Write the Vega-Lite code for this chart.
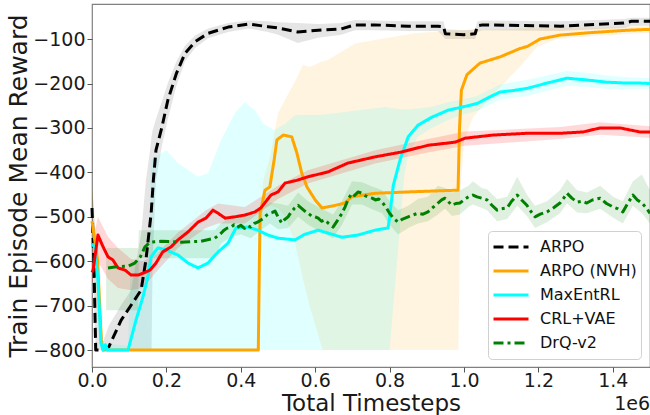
{
"$schema": "https://vega.github.io/schema/vega-lite/v6.json",
"width": 558, "height": 363,
"autosize": {"type": "none"},
"padding": {"left": 92, "top": 4, "right": 0, "bottom": 48},
"background": "white",
"config": {
  "font": "DejaVu Sans",
  "view": {"stroke": "#808080", "strokeWidth": 1.2},
  "axis": {"grid": false, "domain": false, "tickColor": "#555555", "tickSize": 5, "labelFontSize": 19, "labelColor": "#1a1a1a", "titleFontSize": 23, "titleFontWeight": "normal", "titleColor": "#1a1a1a", "labelFont": "DejaVu Sans", "titleFont": "DejaVu Sans"}
},
"datasets": {
"lines": [
{"s":"ARPO","x":0,"y":-480},{"s":"ARPO","x":5000,"y":-600},{"s":"ARPO","x":10000,"y":-800},{"s":"ARPO","x":30000,"y":-800},{"s":"ARPO","x":45000,"y":-793},{"s":"ARPO","x":78000,"y":-733},{"s":"ARPO","x":105000,"y":-699},{"s":"ARPO","x":132000,"y":-665},{"s":"ARPO","x":145000,"y":-597},{"s":"ARPO","x":159000,"y":-492},{"s":"ARPO","x":165000,"y":-417},{"s":"ARPO","x":172000,"y":-350},{"s":"ARPO","x":188000,"y":-298},{"s":"ARPO","x":204000,"y":-237},{"s":"ARPO","x":227000,"y":-177},{"s":"ARPO","x":250000,"y":-132},{"s":"ARPO","x":277000,"y":-106},{"s":"ARPO","x":312000,"y":-87},{"s":"ARPO","x":366000,"y":-73},{"s":"ARPO","x":420000,"y":-66},{"s":"ARPO","x":473000,"y":-72},{"s":"ARPO","x":500000,"y":-75},{"s":"ARPO","x":553000,"y":-84},{"s":"ARPO","x":608000,"y":-80},{"s":"ARPO","x":670000,"y":-77},{"s":"ARPO","x":707000,"y":-68},{"s":"ARPO","x":760000,"y":-68},{"s":"ARPO","x":850000,"y":-71},{"s":"ARPO","x":930000,"y":-71},{"s":"ARPO","x":945000,"y":-72},{"s":"ARPO","x":950000,"y":-88},{"s":"ARPO","x":1000000,"y":-90},{"s":"ARPO","x":1030000,"y":-88},{"s":"ARPO","x":1036000,"y":-70},{"s":"ARPO","x":1050000,"y":-68},{"s":"ARPO","x":1260000,"y":-71},{"s":"ARPO","x":1430000,"y":-64},{"s":"ARPO","x":1450000,"y":-60},{"s":"ARPO","x":1500000,"y":-60},
{"s":"ARPO (NVH)","x":0,"y":-510},{"s":"ARPO (NVH)","x":15000,"y":-597},{"s":"ARPO (NVH)","x":25000,"y":-777},{"s":"ARPO (NVH)","x":30000,"y":-800},{"s":"ARPO (NVH)","x":447000,"y":-800},{"s":"ARPO (NVH)","x":450000,"y":-600},{"s":"ARPO (NVH)","x":452000,"y":-492},{"s":"ARPO (NVH)","x":465000,"y":-440},{"s":"ARPO (NVH)","x":478000,"y":-433},{"s":"ARPO (NVH)","x":490000,"y":-370},{"s":"ARPO (NVH)","x":497000,"y":-327},{"s":"ARPO (NVH)","x":514000,"y":-316},{"s":"ARPO (NVH)","x":537000,"y":-320},{"s":"ARPO (NVH)","x":551000,"y":-357},{"s":"ARPO (NVH)","x":564000,"y":-402},{"s":"ARPO (NVH)","x":578000,"y":-433},{"s":"ARPO (NVH)","x":600000,"y":-462},{"s":"ARPO (NVH)","x":618000,"y":-480},{"s":"ARPO (NVH)","x":650000,"y":-475},{"s":"ARPO (NVH)","x":680000,"y":-469},{"s":"ARPO (NVH)","x":698000,"y":-455},{"s":"ARPO (NVH)","x":761000,"y":-447},{"s":"ARPO (NVH)","x":850000,"y":-444},{"s":"ARPO (NVH)","x":984000,"y":-440},{"s":"ARPO (NVH)","x":988000,"y":-300},{"s":"ARPO (NVH)","x":993000,"y":-215},{"s":"ARPO (NVH)","x":1008000,"y":-180},{"s":"ARPO (NVH)","x":1043000,"y":-154},{"s":"ARPO (NVH)","x":1097000,"y":-140},{"s":"ARPO (NVH)","x":1151000,"y":-121},{"s":"ARPO (NVH)","x":1169000,"y":-117},{"s":"ARPO (NVH)","x":1204000,"y":-100},{"s":"ARPO (NVH)","x":1258000,"y":-91},{"s":"ARPO (NVH)","x":1347000,"y":-85},{"s":"ARPO (NVH)","x":1440000,"y":-80},{"s":"ARPO (NVH)","x":1500000,"y":-78},
{"s":"MaxEntRL","x":0,"y":-560},{"s":"MaxEntRL","x":8000,"y":-570},{"s":"MaxEntRL","x":16000,"y":-642},{"s":"MaxEntRL","x":24000,"y":-784},{"s":"MaxEntRL","x":30000,"y":-800},{"s":"MaxEntRL","x":36000,"y":-788},{"s":"MaxEntRL","x":42000,"y":-800},{"s":"MaxEntRL","x":97000,"y":-800},{"s":"MaxEntRL","x":118000,"y":-733},{"s":"MaxEntRL","x":137000,"y":-680},{"s":"MaxEntRL","x":150000,"y":-636},{"s":"MaxEntRL","x":159000,"y":-590},{"s":"MaxEntRL","x":177000,"y":-570},{"s":"MaxEntRL","x":200000,"y":-575},{"s":"MaxEntRL","x":231000,"y":-586},{"s":"MaxEntRL","x":258000,"y":-604},{"s":"MaxEntRL","x":285000,"y":-615},{"s":"MaxEntRL","x":312000,"y":-604},{"s":"MaxEntRL","x":339000,"y":-579},{"s":"MaxEntRL","x":366000,"y":-559},{"s":"MaxEntRL","x":387000,"y":-525},{"s":"MaxEntRL","x":419000,"y":-523},{"s":"MaxEntRL","x":446000,"y":-530},{"s":"MaxEntRL","x":473000,"y":-541},{"s":"MaxEntRL","x":500000,"y":-548},{"s":"MaxEntRL","x":546000,"y":-552},{"s":"MaxEntRL","x":570000,"y":-540},{"s":"MaxEntRL","x":608000,"y":-530},{"s":"MaxEntRL","x":672000,"y":-546},{"s":"MaxEntRL","x":715000,"y":-541},{"s":"MaxEntRL","x":761000,"y":-530},{"s":"MaxEntRL","x":796000,"y":-525},{"s":"MaxEntRL","x":800000,"y":-500},{"s":"MaxEntRL","x":810000,"y":-429},{"s":"MaxEntRL","x":828000,"y":-372},{"s":"MaxEntRL","x":850000,"y":-320},{"s":"MaxEntRL","x":876000,"y":-294},{"s":"MaxEntRL","x":913000,"y":-276},{"s":"MaxEntRL","x":957000,"y":-260},{"s":"MaxEntRL","x":995000,"y":-253},{"s":"MaxEntRL","x":1035000,"y":-245},{"s":"MaxEntRL","x":1065000,"y":-232},{"s":"MaxEntRL","x":1097000,"y":-219},{"s":"MaxEntRL","x":1130000,"y":-216},{"s":"MaxEntRL","x":1169000,"y":-211},{"s":"MaxEntRL","x":1223000,"y":-199},{"s":"MaxEntRL","x":1277000,"y":-188},{"s":"MaxEntRL","x":1330000,"y":-192},{"s":"MaxEntRL","x":1384000,"y":-197},{"s":"MaxEntRL","x":1438000,"y":-199},{"s":"MaxEntRL","x":1473000,"y":-199},{"s":"MaxEntRL","x":1500000,"y":-200},
{"s":"CRL+VAE","x":0,"y":-625},{"s":"CRL+VAE","x":3000,"y":-620},{"s":"CRL+VAE","x":16000,"y":-541},{"s":"CRL+VAE","x":30000,"y":-568},{"s":"CRL+VAE","x":43000,"y":-590},{"s":"CRL+VAE","x":56000,"y":-597},{"s":"CRL+VAE","x":70000,"y":-615},{"s":"CRL+VAE","x":89000,"y":-620},{"s":"CRL+VAE","x":105000,"y":-631},{"s":"CRL+VAE","x":124000,"y":-631},{"s":"CRL+VAE","x":137000,"y":-627},{"s":"CRL+VAE","x":156000,"y":-620},{"s":"CRL+VAE","x":172000,"y":-604},{"s":"CRL+VAE","x":190000,"y":-579},{"s":"CRL+VAE","x":212000,"y":-568},{"s":"CRL+VAE","x":231000,"y":-552},{"s":"CRL+VAE","x":258000,"y":-534},{"s":"CRL+VAE","x":285000,"y":-512},{"s":"CRL+VAE","x":306000,"y":-503},{"s":"CRL+VAE","x":325000,"y":-485},{"s":"CRL+VAE","x":339000,"y":-492},{"s":"CRL+VAE","x":358000,"y":-503},{"s":"CRL+VAE","x":384000,"y":-500},{"s":"CRL+VAE","x":411000,"y":-496},{"s":"CRL+VAE","x":438000,"y":-489},{"s":"CRL+VAE","x":454000,"y":-480},{"s":"CRL+VAE","x":481000,"y":-451},{"s":"CRL+VAE","x":500000,"y":-444},{"s":"CRL+VAE","x":519000,"y":-424},{"s":"CRL+VAE","x":550000,"y":-418},{"s":"CRL+VAE","x":580000,"y":-410},{"s":"CRL+VAE","x":634000,"y":-399},{"s":"CRL+VAE","x":688000,"y":-379},{"s":"CRL+VAE","x":761000,"y":-365},{"s":"CRL+VAE","x":833000,"y":-354},{"s":"CRL+VAE","x":903000,"y":-339},{"s":"CRL+VAE","x":976000,"y":-332},{"s":"CRL+VAE","x":1003000,"y":-323},{"s":"CRL+VAE","x":1078000,"y":-316},{"s":"CRL+VAE","x":1169000,"y":-312},{"s":"CRL+VAE","x":1258000,"y":-312},{"s":"CRL+VAE","x":1320000,"y":-309},{"s":"CRL+VAE","x":1366000,"y":-300},{"s":"CRL+VAE","x":1420000,"y":-300},{"s":"CRL+VAE","x":1473000,"y":-309},{"s":"CRL+VAE","x":1500000,"y":-309},
{"s":"DrQ-v2","x":43000,"y":-615},{"s":"DrQ-v2","x":70000,"y":-612},{"s":"DrQ-v2","x":97000,"y":-611},{"s":"DrQ-v2","x":115000,"y":-604},{"s":"DrQ-v2","x":130000,"y":-590},{"s":"DrQ-v2","x":142000,"y":-568},{"s":"DrQ-v2","x":156000,"y":-557},{"s":"DrQ-v2","x":186000,"y":-555},{"s":"DrQ-v2","x":239000,"y":-557},{"s":"DrQ-v2","x":293000,"y":-555},{"s":"DrQ-v2","x":330000,"y":-548},{"s":"DrQ-v2","x":340000,"y":-542},{"s":"DrQ-v2","x":347000,"y":-537},{"s":"DrQ-v2","x":355000,"y":-530},{"s":"DrQ-v2","x":362000,"y":-526},{"s":"DrQ-v2","x":374000,"y":-523},{"s":"DrQ-v2","x":382000,"y":-518},{"s":"DrQ-v2","x":390000,"y":-524},{"s":"DrQ-v2","x":400000,"y":-519},{"s":"DrQ-v2","x":410000,"y":-526},{"s":"DrQ-v2","x":418000,"y":-520},{"s":"DrQ-v2","x":427000,"y":-523},{"s":"DrQ-v2","x":436000,"y":-515},{"s":"DrQ-v2","x":445000,"y":-512},{"s":"DrQ-v2","x":454000,"y":-507},{"s":"DrQ-v2","x":462000,"y":-503},{"s":"DrQ-v2","x":470000,"y":-496},{"s":"DrQ-v2","x":478000,"y":-492},{"s":"DrQ-v2","x":485000,"y":-490},{"s":"DrQ-v2","x":492000,"y":-487},{"s":"DrQ-v2","x":500000,"y":-500},{"s":"DrQ-v2","x":510000,"y":-514},{"s":"DrQ-v2","x":518000,"y":-506},{"s":"DrQ-v2","x":527000,"y":-500},{"s":"DrQ-v2","x":535000,"y":-490},{"s":"DrQ-v2","x":545000,"y":-480},{"s":"DrQ-v2","x":554000,"y":-474},{"s":"DrQ-v2","x":562000,"y":-480},{"s":"DrQ-v2","x":572000,"y":-487},{"s":"DrQ-v2","x":581000,"y":-492},{"s":"DrQ-v2","x":590000,"y":-498},{"s":"DrQ-v2","x":600000,"y":-500},{"s":"DrQ-v2","x":608000,"y":-503},{"s":"DrQ-v2","x":617000,"y":-510},{"s":"DrQ-v2","x":626000,"y":-507},{"s":"DrQ-v2","x":636000,"y":-515},{"s":"DrQ-v2","x":648000,"y":-523},{"s":"DrQ-v2","x":660000,"y":-508},{"s":"DrQ-v2","x":672000,"y":-492},{"s":"DrQ-v2","x":680000,"y":-478},{"s":"DrQ-v2","x":690000,"y":-458},{"s":"DrQ-v2","x":699000,"y":-447},{"s":"DrQ-v2","x":706000,"y":-452},{"s":"DrQ-v2","x":715000,"y":-444},{"s":"DrQ-v2","x":726000,"y":-447},{"s":"DrQ-v2","x":735000,"y":-453},{"s":"DrQ-v2","x":744000,"y":-456},{"s":"DrQ-v2","x":753000,"y":-458},{"s":"DrQ-v2","x":762000,"y":-462},{"s":"DrQ-v2","x":771000,"y":-460},{"s":"DrQ-v2","x":780000,"y":-467},{"s":"DrQ-v2","x":790000,"y":-478},{"s":"DrQ-v2","x":800000,"y":-492},{"s":"DrQ-v2","x":810000,"y":-503},{"s":"DrQ-v2","x":823000,"y":-512},{"s":"DrQ-v2","x":835000,"y":-505},{"s":"DrQ-v2","x":850000,"y":-500},{"s":"DrQ-v2","x":862000,"y":-496},{"s":"DrQ-v2","x":876000,"y":-492},{"s":"DrQ-v2","x":890000,"y":-494},{"s":"DrQ-v2","x":903000,"y":-489},{"s":"DrQ-v2","x":915000,"y":-480},{"s":"DrQ-v2","x":930000,"y":-469},{"s":"DrQ-v2","x":940000,"y":-462},{"s":"DrQ-v2","x":949000,"y":-458},{"s":"DrQ-v2","x":958000,"y":-466},{"s":"DrQ-v2","x":968000,"y":-474},{"s":"DrQ-v2","x":978000,"y":-470},{"s":"DrQ-v2","x":989000,"y":-469},{"s":"DrQ-v2","x":1000000,"y":-462},{"s":"DrQ-v2","x":1012000,"y":-455},{"s":"DrQ-v2","x":1024000,"y":-451},{"s":"DrQ-v2","x":1035000,"y":-455},{"s":"DrQ-v2","x":1048000,"y":-458},{"s":"DrQ-v2","x":1062000,"y":-462},{"s":"DrQ-v2","x":1075000,"y":-474},{"s":"DrQ-v2","x":1089000,"y":-485},{"s":"DrQ-v2","x":1100000,"y":-482},{"s":"DrQ-v2","x":1116000,"y":-480},{"s":"DrQ-v2","x":1128000,"y":-465},{"s":"DrQ-v2","x":1143000,"y":-451},{"s":"DrQ-v2","x":1155000,"y":-462},{"s":"DrQ-v2","x":1169000,"y":-474},{"s":"DrQ-v2","x":1180000,"y":-488},{"s":"DrQ-v2","x":1191000,"y":-500},{"s":"DrQ-v2","x":1205000,"y":-494},{"s":"DrQ-v2","x":1223000,"y":-489},{"s":"DrQ-v2","x":1240000,"y":-480},{"s":"DrQ-v2","x":1258000,"y":-469},{"s":"DrQ-v2","x":1268000,"y":-458},{"s":"DrQ-v2","x":1277000,"y":-447},{"s":"DrQ-v2","x":1290000,"y":-458},{"s":"DrQ-v2","x":1304000,"y":-467},{"s":"DrQ-v2","x":1318000,"y":-465},{"s":"DrQ-v2","x":1330000,"y":-469},{"s":"DrQ-v2","x":1345000,"y":-462},{"s":"DrQ-v2","x":1366000,"y":-458},{"s":"DrQ-v2","x":1383000,"y":-470},{"s":"DrQ-v2","x":1401000,"y":-478},{"s":"DrQ-v2","x":1414000,"y":-482},{"s":"DrQ-v2","x":1427000,"y":-489},{"s":"DrQ-v2","x":1440000,"y":-470},{"s":"DrQ-v2","x":1454000,"y":-451},{"s":"DrQ-v2","x":1466000,"y":-462},{"s":"DrQ-v2","x":1478000,"y":-469},{"s":"DrQ-v2","x":1490000,"y":-480},{"s":"DrQ-v2","x":1500000,"y":-492}
],
"bands": [
{"s":"ARPO","g":"a","x":0,"lo":-560,"hi":-440},{"s":"ARPO","g":"a","x":5000,"lo":-700,"hi":-470},{"s":"ARPO","g":"a","x":10000,"lo":-800,"hi":-560},{"s":"ARPO","g":"a","x":30000,"lo":-800,"hi":-780},{"s":"ARPO","g":"a","x":45000,"lo":-800,"hi":-745},{"s":"ARPO","g":"a","x":78000,"lo":-800,"hi":-699},{"s":"ARPO","g":"a","x":105000,"lo":-800,"hi":-665},{"s":"ARPO","g":"a","x":132000,"lo":-800,"hi":-540},{"s":"ARPO","g":"a","x":145000,"lo":-800,"hi":-417},{"s":"ARPO","g":"a","x":156000,"lo":-800,"hi":-350},{"s":"ARPO","g":"a","x":160000,"lo":-800,"hi":-320},{"s":"ARPO","g":"a","x":163000,"lo":-600,"hi":-305},{"s":"ARPO","g":"a","x":172000,"lo":-420,"hi":-280},{"s":"ARPO","g":"a","x":188000,"lo":-340,"hi":-240},{"s":"ARPO","g":"a","x":204000,"lo":-280,"hi":-199},{"s":"ARPO","g":"a","x":227000,"lo":-205,"hi":-150},{"s":"ARPO","g":"a","x":250000,"lo":-150,"hi":-115},{"s":"ARPO","g":"a","x":277000,"lo":-120,"hi":-92},{"s":"ARPO","g":"a","x":312000,"lo":-98,"hi":-76},{"s":"ARPO","g":"a","x":366000,"lo":-84,"hi":-64},{"s":"ARPO","g":"a","x":420000,"lo":-76,"hi":-58},{"s":"ARPO","g":"a","x":473000,"lo":-84,"hi":-60},{"s":"ARPO","g":"a","x":500000,"lo":-90,"hi":-62},{"s":"ARPO","g":"a","x":553000,"lo":-109,"hi":-64},{"s":"ARPO","g":"a","x":608000,"lo":-97,"hi":-66},{"s":"ARPO","g":"a","x":670000,"lo":-90,"hi":-64},{"s":"ARPO","g":"a","x":707000,"lo":-80,"hi":-57},{"s":"ARPO","g":"a","x":760000,"lo":-80,"hi":-58},{"s":"ARPO","g":"a","x":850000,"lo":-82,"hi":-60},{"s":"ARPO","g":"a","x":930000,"lo":-82,"hi":-60},{"s":"ARPO","g":"a","x":945000,"lo":-95,"hi":-60},{"s":"ARPO","g":"a","x":950000,"lo":-100,"hi":-78},{"s":"ARPO","g":"a","x":1000000,"lo":-100,"hi":-80},{"s":"ARPO","g":"a","x":1030000,"lo":-100,"hi":-78},{"s":"ARPO","g":"a","x":1036000,"lo":-84,"hi":-60},{"s":"ARPO","g":"a","x":1050000,"lo":-80,"hi":-58},{"s":"ARPO","g":"a","x":1260000,"lo":-82,"hi":-60},{"s":"ARPO","g":"a","x":1430000,"lo":-75,"hi":-55},{"s":"ARPO","g":"a","x":1450000,"lo":-70,"hi":-52},{"s":"ARPO","g":"a","x":1500000,"lo":-70,"hi":-52},
{"s":"ARPO (NVH)","g":"a","x":0,"lo":-560,"hi":-420},{"s":"ARPO (NVH)","g":"a","x":10000,"lo":-700,"hi":-560},{"s":"ARPO (NVH)","g":"a","x":30000,"lo":-800,"hi":-800},
{"s":"ARPO (NVH)","g":"b","x":446000,"lo":-800,"hi":-800},{"s":"ARPO (NVH)","g":"b","x":449000,"lo":-620,"hi":-540},{"s":"ARPO (NVH)","g":"b","x":460000,"lo":-480,"hi":-420},{"s":"ARPO (NVH)","g":"b","x":480000,"lo":-475,"hi":-360},{"s":"ARPO (NVH)","g":"b","x":500000,"lo":-480,"hi":-267},{"s":"ARPO (NVH)","g":"b","x":520000,"lo":-500,"hi":-235},{"s":"ARPO (NVH)","g":"b","x":546000,"lo":-560,"hi":-195},{"s":"ARPO (NVH)","g":"b","x":567000,"lo":-640,"hi":-158},{"s":"ARPO (NVH)","g":"b","x":585000,"lo":-700,"hi":-163},{"s":"ARPO (NVH)","g":"b","x":620000,"lo":-800,"hi":-150},{"s":"ARPO (NVH)","g":"b","x":634000,"lo":-800,"hi":-147},{"s":"ARPO (NVH)","g":"b","x":707000,"lo":-800,"hi":-110},{"s":"ARPO (NVH)","g":"b","x":760000,"lo":-800,"hi":-102},{"s":"ARPO (NVH)","g":"b","x":868000,"lo":-800,"hi":-87},{"s":"ARPO (NVH)","g":"b","x":976000,"lo":-800,"hi":-80},{"s":"ARPO (NVH)","g":"b","x":985000,"lo":-800,"hi":-80},{"s":"ARPO (NVH)","g":"b","x":990000,"lo":-440,"hi":-80},{"s":"ARPO (NVH)","g":"b","x":1000000,"lo":-330,"hi":-80},{"s":"ARPO (NVH)","g":"b","x":1024000,"lo":-276,"hi":-80},{"s":"ARPO (NVH)","g":"b","x":1089000,"lo":-215,"hi":-78},{"s":"ARPO (NVH)","g":"b","x":1150000,"lo":-163,"hi":-76},{"s":"ARPO (NVH)","g":"b","x":1196000,"lo":-118,"hi":-75},{"s":"ARPO (NVH)","g":"b","x":1250000,"lo":-100,"hi":-75},{"s":"ARPO (NVH)","g":"b","x":1350000,"lo":-93,"hi":-74},{"s":"ARPO (NVH)","g":"b","x":1500000,"lo":-86,"hi":-70},
{"s":"MaxEntRL","g":"a","x":0,"lo":-600,"hi":-520},{"s":"MaxEntRL","g":"a","x":8000,"lo":-620,"hi":-540},{"s":"MaxEntRL","g":"a","x":16000,"lo":-700,"hi":-600},{"s":"MaxEntRL","g":"a","x":30000,"lo":-800,"hi":-785},{"s":"MaxEntRL","g":"a","x":97000,"lo":-800,"hi":-790},{"s":"MaxEntRL","g":"a","x":104000,"lo":-800,"hi":-600},{"s":"MaxEntRL","g":"a","x":150000,"lo":-800,"hi":-595},{"s":"MaxEntRL","g":"a","x":155000,"lo":-800,"hi":-560},{"s":"MaxEntRL","g":"a","x":158000,"lo":-800,"hi":-372},{"s":"MaxEntRL","g":"a","x":200000,"lo":-800,"hi":-350},{"s":"MaxEntRL","g":"a","x":231000,"lo":-800,"hi":-379},{"s":"MaxEntRL","g":"a","x":285000,"lo":-800,"hi":-410},{"s":"MaxEntRL","g":"a","x":312000,"lo":-800,"hi":-402},{"s":"MaxEntRL","g":"a","x":347000,"lo":-800,"hi":-327},{"s":"MaxEntRL","g":"a","x":384000,"lo":-800,"hi":-267},{"s":"MaxEntRL","g":"a","x":410000,"lo":-800,"hi":-242},{"s":"MaxEntRL","g":"a","x":438000,"lo":-800,"hi":-260},{"s":"MaxEntRL","g":"a","x":460000,"lo":-800,"hi":-290},{"s":"MaxEntRL","g":"a","x":490000,"lo":-800,"hi":-305},{"s":"MaxEntRL","g":"a","x":520000,"lo":-800,"hi":-290},{"s":"MaxEntRL","g":"a","x":546000,"lo":-800,"hi":-271},{"s":"MaxEntRL","g":"a","x":620000,"lo":-800,"hi":-270},{"s":"MaxEntRL","g":"a","x":715000,"lo":-800,"hi":-260},{"s":"MaxEntRL","g":"a","x":790000,"lo":-800,"hi":-253},{"s":"MaxEntRL","g":"a","x":800000,"lo":-800,"hi":-255},{"s":"MaxEntRL","g":"a","x":815000,"lo":-650,"hi":-256},{"s":"MaxEntRL","g":"a","x":830000,"lo":-500,"hi":-258},{"s":"MaxEntRL","g":"a","x":840000,"lo":-405,"hi":-258},{"s":"MaxEntRL","g":"a","x":850000,"lo":-360,"hi":-258},{"s":"MaxEntRL","g":"a","x":876000,"lo":-320,"hi":-256},{"s":"MaxEntRL","g":"a","x":913000,"lo":-300,"hi":-252},{"s":"MaxEntRL","g":"a","x":957000,"lo":-282,"hi":-242},{"s":"MaxEntRL","g":"a","x":995000,"lo":-270,"hi":-236},{"s":"MaxEntRL","g":"a","x":1035000,"lo":-262,"hi":-228},{"s":"MaxEntRL","g":"a","x":1097000,"lo":-236,"hi":-202},{"s":"MaxEntRL","g":"a","x":1169000,"lo":-228,"hi":-192},{"s":"MaxEntRL","g":"a","x":1223000,"lo":-216,"hi":-182},{"s":"MaxEntRL","g":"a","x":1277000,"lo":-205,"hi":-172},{"s":"MaxEntRL","g":"a","x":1330000,"lo":-208,"hi":-176},{"s":"MaxEntRL","g":"a","x":1384000,"lo":-212,"hi":-182},{"s":"MaxEntRL","g":"a","x":1438000,"lo":-213,"hi":-186},{"s":"MaxEntRL","g":"a","x":1500000,"lo":-212,"hi":-188},
{"s":"CRL+VAE","g":"a","x":0,"lo":-650,"hi":-560},{"s":"CRL+VAE","g":"a","x":16000,"lo":-600,"hi":-500},{"s":"CRL+VAE","g":"a","x":43000,"lo":-640,"hi":-545},{"s":"CRL+VAE","g":"a","x":70000,"lo":-660,"hi":-570},{"s":"CRL+VAE","g":"a","x":105000,"lo":-665,"hi":-595},{"s":"CRL+VAE","g":"a","x":137000,"lo":-660,"hi":-600},{"s":"CRL+VAE","g":"a","x":172000,"lo":-625,"hi":-585},{"s":"CRL+VAE","g":"a","x":231000,"lo":-570,"hi":-535},{"s":"CRL+VAE","g":"a","x":306000,"lo":-525,"hi":-485},{"s":"CRL+VAE","g":"a","x":339000,"lo":-515,"hi":-470},{"s":"CRL+VAE","g":"a","x":411000,"lo":-515,"hi":-478},{"s":"CRL+VAE","g":"a","x":500000,"lo":-460,"hi":-430},{"s":"CRL+VAE","g":"a","x":580000,"lo":-425,"hi":-395},{"s":"CRL+VAE","g":"a","x":761000,"lo":-380,"hi":-350},{"s":"CRL+VAE","g":"a","x":903000,"lo":-355,"hi":-325},{"s":"CRL+VAE","g":"a","x":1003000,"lo":-340,"hi":-308},{"s":"CRL+VAE","g":"a","x":1258000,"lo":-325,"hi":-298},{"s":"CRL+VAE","g":"a","x":1366000,"lo":-315,"hi":-287},{"s":"CRL+VAE","g":"a","x":1500000,"lo":-322,"hi":-296},
{"s":"DrQ-v2","g":"a","x":38000,"lo":-710,"hi":-570},{"s":"DrQ-v2","g":"a","x":124000,"lo":-710,"hi":-570},{"s":"DrQ-v2","g":"a","x":126000,"lo":-593,"hi":-530},{"s":"DrQ-v2","g":"a","x":330000,"lo":-593,"hi":-530},{"s":"DrQ-v2","g":"a","x":347000,"lo":-560,"hi":-515},{"s":"DrQ-v2","g":"a","x":374000,"lo":-545,"hi":-500},{"s":"DrQ-v2","g":"a","x":400000,"lo":-540,"hi":-495},{"s":"DrQ-v2","g":"a","x":427000,"lo":-548,"hi":-498},{"s":"DrQ-v2","g":"a","x":454000,"lo":-530,"hi":-482},{"s":"DrQ-v2","g":"a","x":478000,"lo":-515,"hi":-468},{"s":"DrQ-v2","g":"a","x":500000,"lo":-528,"hi":-470},{"s":"DrQ-v2","g":"a","x":527000,"lo":-525,"hi":-475},{"s":"DrQ-v2","g":"a","x":554000,"lo":-500,"hi":-445},{"s":"DrQ-v2","g":"a","x":581000,"lo":-518,"hi":-465},{"s":"DrQ-v2","g":"a","x":608000,"lo":-530,"hi":-478},{"s":"DrQ-v2","g":"a","x":648000,"lo":-548,"hi":-495},{"s":"DrQ-v2","g":"a","x":672000,"lo":-518,"hi":-465},{"s":"DrQ-v2","g":"a","x":699000,"lo":-472,"hi":-420},{"s":"DrQ-v2","g":"a","x":726000,"lo":-472,"hi":-422},{"s":"DrQ-v2","g":"a","x":753000,"lo":-483,"hi":-432},{"s":"DrQ-v2","g":"a","x":780000,"lo":-492,"hi":-440},{"s":"DrQ-v2","g":"a","x":800000,"lo":-518,"hi":-465},{"s":"DrQ-v2","g":"a","x":823000,"lo":-540,"hi":-485},{"s":"DrQ-v2","g":"a","x":850000,"lo":-525,"hi":-475},{"s":"DrQ-v2","g":"a","x":876000,"lo":-515,"hi":-460},{"s":"DrQ-v2","g":"a","x":903000,"lo":-510,"hi":-455},{"s":"DrQ-v2","g":"a","x":930000,"lo":-495,"hi":-430},{"s":"DrQ-v2","g":"a","x":949000,"lo":-482,"hi":-435},{"s":"DrQ-v2","g":"a","x":968000,"lo":-498,"hi":-445},{"s":"DrQ-v2","g":"a","x":989000,"lo":-495,"hi":-440},{"s":"DrQ-v2","g":"a","x":1012000,"lo":-478,"hi":-430},{"s":"DrQ-v2","g":"a","x":1024000,"lo":-472,"hi":-420},{"s":"DrQ-v2","g":"a","x":1048000,"lo":-480,"hi":-435},{"s":"DrQ-v2","g":"a","x":1062000,"lo":-485,"hi":-438},{"s":"DrQ-v2","g":"a","x":1089000,"lo":-510,"hi":-460},{"s":"DrQ-v2","g":"a","x":1116000,"lo":-505,"hi":-455},{"s":"DrQ-v2","g":"a","x":1143000,"lo":-475,"hi":-410},{"s":"DrQ-v2","g":"a","x":1169000,"lo":-498,"hi":-450},{"s":"DrQ-v2","g":"a","x":1191000,"lo":-525,"hi":-475},{"s":"DrQ-v2","g":"a","x":1223000,"lo":-512,"hi":-465},{"s":"DrQ-v2","g":"a","x":1258000,"lo":-492,"hi":-440},{"s":"DrQ-v2","g":"a","x":1277000,"lo":-470,"hi":-415},{"s":"DrQ-v2","g":"a","x":1304000,"lo":-490,"hi":-440},{"s":"DrQ-v2","g":"a","x":1330000,"lo":-492,"hi":-445},{"s":"DrQ-v2","g":"a","x":1366000,"lo":-482,"hi":-430},{"s":"DrQ-v2","g":"a","x":1401000,"lo":-502,"hi":-455},{"s":"DrQ-v2","g":"a","x":1427000,"lo":-515,"hi":-465},{"s":"DrQ-v2","g":"a","x":1454000,"lo":-475,"hi":-420},{"s":"DrQ-v2","g":"a","x":1478000,"lo":-492,"hi":-405},{"s":"DrQ-v2","g":"a","x":1500000,"lo":-515,"hi":-440}
]
},
"layer": [
{
 "data": {"name": "bands"},
 "mark": {"type": "area", "opacity": 1, "fillOpacity": 1, "strokeWidth": 0},
 "encoding": {
  "x": {"field": "x", "type": "quantitative", "title": "Total Timesteps", "scale": {"domain": [0, 1500000], "nice": false, "zero": false},
        "axis": {"values": [0, 200000, 400000, 600000, 800000, 1000000, 1200000, 1400000], "labelExpr": "format(datum.value/1000000, '.1f')", "labelFlush": false, "labelPadding": -1, "titlePadding": 2}},
  "y": {"field": "lo", "type": "quantitative", "title": "Train Episode Mean Reward", "scale": {"domain": [-838, -21], "nice": false, "zero": false},
        "axis": {"values": [-800, -700, -600, -500, -400, -300, -200, -100], "labelPadding": 2, "titlePadding": 1, "titleFontSize": 25}},
  "y2": {"field": "hi"},
  "fill": {"field": "s", "type": "nominal", "legend": null, "scale": {"domain": ["DrQ-v2", "CRL+VAE", "MaxEntRL", "ARPO (NVH)", "ARPO"], "range": ["rgba(0,128,0,0.12)", "rgba(255,0,0,0.15)", "rgba(0,255,255,0.12)", "rgba(255,165,0,0.12)", "rgba(0,0,0,0.1)"]}},
  "detail": {"field": "g", "type": "nominal"}
 }
},
{
 "data": {"name": "lines"},
 "mark": {"type": "line", "strokeWidth": 3, "strokeJoin": "round"},
 "encoding": {
  "x": {"field": "x", "type": "quantitative", "title": "Total Timesteps"},
  "y": {"field": "y", "type": "quantitative", "title": "Train Episode Mean Reward"},
  "stroke": {"field": "s", "type": "nominal", "scale": {"domain": ["ARPO", "ARPO (NVH)", "MaxEntRL", "CRL+VAE", "DrQ-v2"], "range": ["#000000", "#FFA500", "#00FFFF", "#FF0000", "#008000"]},
     "legend": {"title": null, "orient": "none", "legendX": 396, "legendY": 227, "fillColor": "rgba(255,255,255,0.85)", "strokeColor": "#d0d0d0", "cornerRadius": 4, "padding": 4, "labelFontSize": 16, "labelColor": "#111111", "labelFont": "DejaVu Sans", "symbolType": "stroke", "symbolSize": 1225, "symbolStrokeWidth": 3, "clipHeight": 24, "rowPadding": 0, "labelOffset": 10}},
  "strokeDash": {"field": "s", "type": "nominal", "scale": {"domain": ["ARPO", "ARPO (NVH)", "MaxEntRL", "CRL+VAE", "DrQ-v2"], "range": [[10, 5], [1, 0], [1, 0], [1, 0], [10, 4, 3, 4]]},
     "legend": {"title": null, "orient": "none", "legendX": 396, "legendY": 227, "fillColor": "rgba(255,255,255,0.85)", "strokeColor": "#d0d0d0", "cornerRadius": 4, "padding": 4, "labelFontSize": 16, "labelColor": "#111111", "labelFont": "DejaVu Sans", "symbolType": "stroke", "symbolSize": 1225, "symbolStrokeWidth": 3, "clipHeight": 24, "rowPadding": 0, "labelOffset": 10}}
 }
},
{
 "data": {"values": [{"t": "1e6"}]},
 "mark": {"type": "text", "align": "right", "baseline": "alphabetic", "fontSize": 19, "dy": 43, "color": "#1a1a1a", "font": "DejaVu Sans"},
 "encoding": {
  "x": {"datum": 1500000, "type": "quantitative"},
  "y": {"datum": -838, "type": "quantitative"},
  "text": {"field": "t"}
 }
}
]
}
